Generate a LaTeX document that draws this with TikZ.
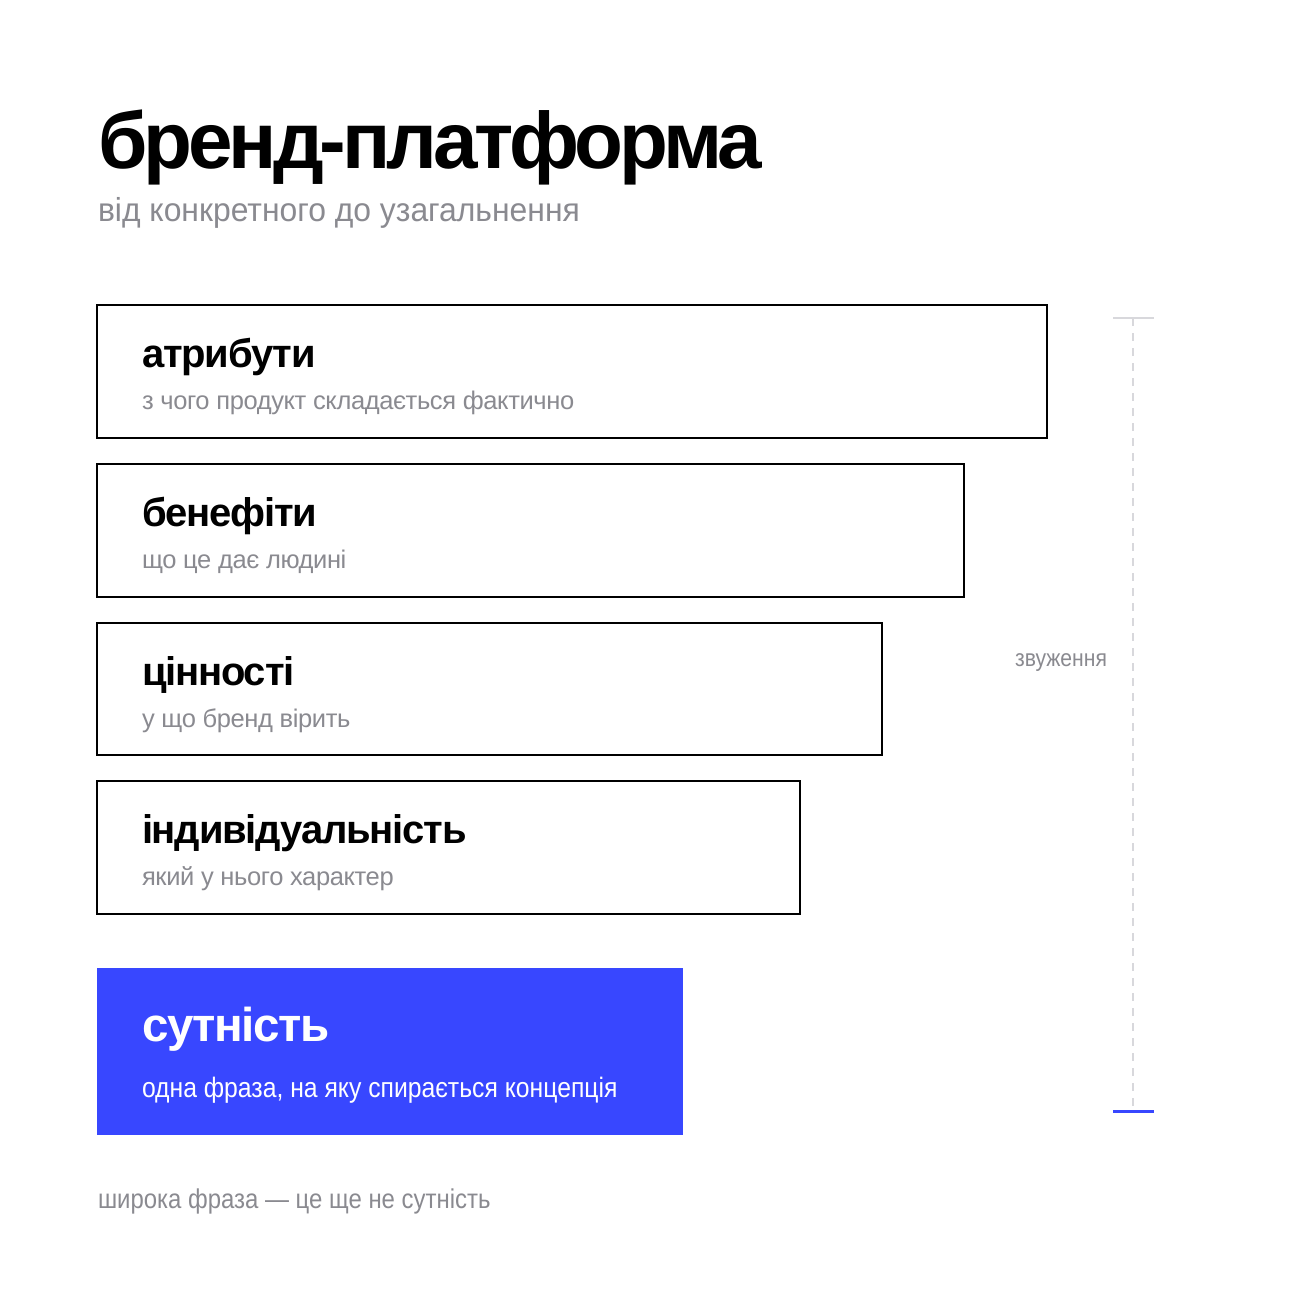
\documentclass[tikz,border=0pt]{standalone}
\usepackage{fontspec}
\setmainfont{Liberation Sans}
\newfontfamily\tightfont[LetterSpace=-3]{Liberation Sans}
\newfontfamily\titlefont[LetterSpace=-5]{Liberation Sans}
\newfontfamily\regfont[LetterSpace=-1.5]{Liberation Sans}
\newfontfamily\subtitlefont[FakeStretch=0.96]{Liberation Sans}
\newfontfamily\narrowfont[FakeStretch=0.88]{Liberation Sans}
\definecolor{txtgray}{HTML}{8A8A90}
\definecolor{brandblue}{HTML}{3847FF}
\definecolor{linegray}{HTML}{D8D8DC}
\tikzset{
  every node/.style={inner sep=0pt, outer sep=0pt},
  layerbox/.style={draw=black, line width=2.5pt, fill=white},
  headtxt/.style={anchor=base west, font=\tightfont\bfseries\fontsize{40}{40}\selectfont, text=black},
  subtxt/.style={anchor=base west, font=\regfont\fontsize{25.5}{25.5}\selectfont, text=txtgray},
}
\begin{document}
\begin{tikzpicture}[x=1pt,y=-1pt]
\useasboundingbox (0,0) rectangle (1300,1300);
\fill[white] (0,0) rectangle (1300,1300);
% title
\node[anchor=base west, font=\titlefont\bfseries\fontsize{80}{80}\selectfont] (title) at (98,169) {бренд-платформа};
\node[anchor=base west, font=\subtitlefont\fontsize{33.2}{33.2}\selectfont, text=txtgray] (subtitle) at (98,222) {від конкретного до узагальнення};
% boxes
\draw[layerbox] (97,305) rectangle (1047,438);
\draw[layerbox] (97,464) rectangle (964,597);
\draw[layerbox] (97,623) rectangle (882,755);
\draw[layerbox] (97,781) rectangle (800,914);
\fill[brandblue] (97,968) rectangle (683,1135);
\node[headtxt] (h1) at (142,367) {атрибути};
\node[subtxt] (s1) at (142,409) {з чого продукт складається фактично};
\node[headtxt] (h2) at (142,526) {бенефіти};
\node[subtxt] (s2) at (142,568) {що це дає людині};
\node[headtxt] (h3) at (142,685) {цінності};
\node[subtxt] (s3) at (142,727) {у що бренд вірить};
\node[headtxt] (h4) at (142,843) {індивідуальність};
\node[subtxt] (s4) at (142,885) {який у нього характер};
\node[headtxt, text=white, font=\tightfont\bfseries\fontsize{47.5}{47.5}\selectfont] (h5) at (142,1041) {сутність};
\node[subtxt, text=white, font=\narrowfont\fontsize{28.1}{28.1}\selectfont] (s5) at (142,1097) {одна фраза, на яку спирається концепція};
% footer
\node[subtxt, font=\narrowfont\fontsize{27.2}{27.2}\selectfont] (foot) at (98,1208) {широка фраза — це ще не сутність};
% scale
\coordinate (top) at (1133,318);
\coordinate (bot) at (1133,1111);
\draw[linegray, line width=2pt, dash pattern=on 8pt off 7pt] (top) -- (bot);
\draw[linegray, line width=2pt] (1113,318) -- (1154,318);
\draw[brandblue, line width=3pt] (1113,1111) -- (1154,1111);
\node[anchor=base east, font=\narrowfont\fontsize{24}{24}\selectfont, text=txtgray] (lbl) at (1107,666) {звуження};
\end{tikzpicture}
\end{document}
